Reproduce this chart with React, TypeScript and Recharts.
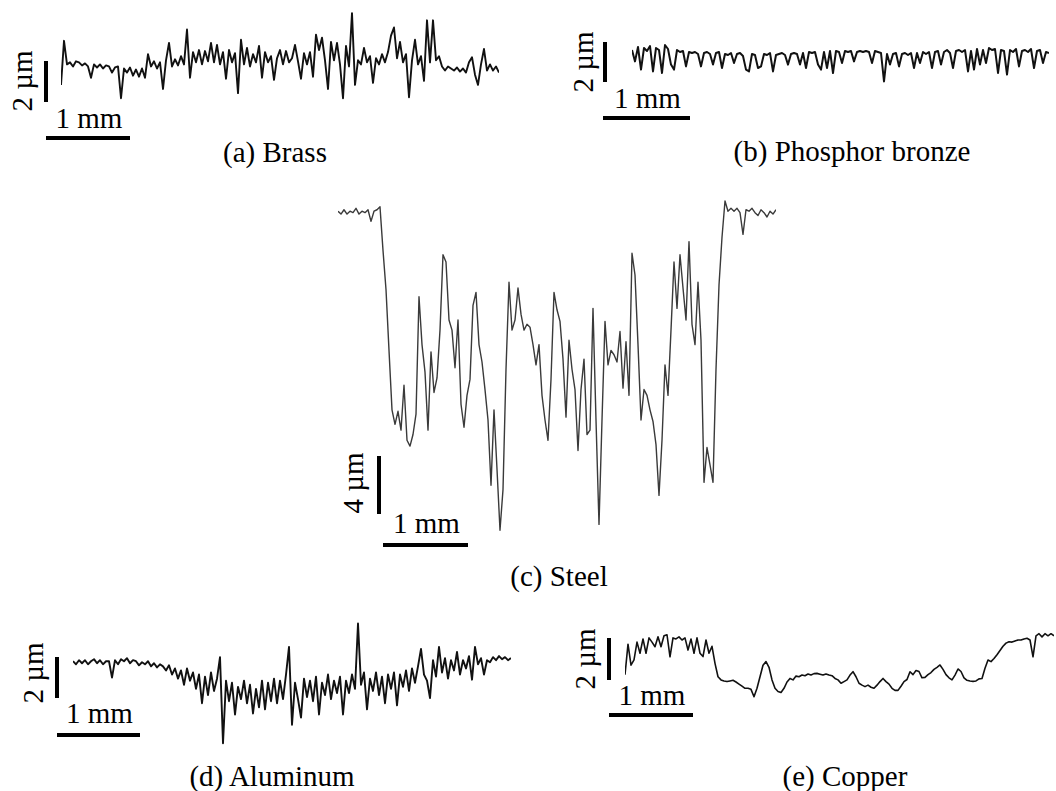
import { LineChart, Line, XAxis, YAxis } from "recharts";

// Surface profiles, heights in µm, one sample every ~0.035 mm.
const brassHeight = [
  -0.8, 1.35, 0.2, 0.3, 0.1, 0.35, 0.3, 0.15, 0.25, 0.1,
  -0.45, 0.2, 0.05, 0.2, 0.0, 0.15, 0.1, -0.2, 0.05, 0.1,
  -1.45, 0.0, -0.2, 0.05, -0.35, -0.05, -0.4, 0.0, -0.45, 0.7,
  0.1, 0.35, 0.0, 0.3, -1.0, 0.4, 1.25, 0.1, 0.45, 0.15,
  0.6, 0.2, 1.9, -0.45, 0.8, 0.3, 0.9, 0.2, 0.85, 0.35,
  1.25, 0.3, 1.15, 0.2, 0.8, -0.5, 0.9, 0.3, 0.75, -1.2,
  1.4, 0.2, 1.0, 0.1, 0.7, 0.3, 1.1, -0.45, 0.8, 0.3,
  0.6, -0.55, 0.5, 0.9, 0.2, 0.85, 0.3, 0.5, 1.15, 0.35,
  -0.5, 0.75, 0.2, 0.8, -0.4, 1.65, 0.9, 1.5, 0.4, -1.0,
  1.3, 0.4, 1.25, 0.2, -1.45, 1.1, 0.1, 2.7, -0.8, 0.4,
  0.2, 1.0, 0.3, 0.6, -0.7, 0.5, 0.2, 0.7, 0.3, 0.8,
  1.6, 2.0, 0.5, 1.3, 0.3, 0.7, -1.4, 0.4, 1.4, 0.2,
  0.6, -0.6, 2.35, 0.3, 2.35, 0.4, 0.6, 0.1, -0.1, 0.1,
  0.0, -0.1, 0.05, -0.15, 0.0, -0.2, 0.3, 0.55, -0.3, -0.8,
  0.2, 0.95, -0.1, 0.2, -0.1, 0.1, -0.2,
];

const bronzeHeight = [
  0.2, -0.37, 0.35, -0.78, 0.3, 0.15, 0.4, -0.87, 0.3, 0.2,
  -0.95, 0.45, 0.25, -0.53, -0.78, 0.2, 0.1, 0.15, -0.62, 0.1,
  0.05, 0.1, 0.0, -0.62, 0.05, 0.1, 0.0, -0.53, 0.05, 0.1,
  -0.7, 0.0, -0.05, 0.05, -0.45, 0.0, 0.05, -0.1, -0.78, -0.87,
  0.0, -0.05, -0.7, -0.62, 0.0, -0.05, 0.05, -0.87, -0.05, 0.0,
  0.05, -0.05, -0.53, 0.0, 0.05, 0.0, -0.53, 0.05, -0.7, 0.1,
  0.05, 0.1, -0.53, -0.78, 0.1, -0.7, 0.15, -0.95, 0.15, 0.1,
  -0.45, 0.15, 0.1, 0.15, -0.37, 0.1, 0.15, 0.1, 0.15, 0.1,
  -0.45, 0.15, 0.1, 0.05, -1.37, 0.0, -0.53, 0.0, 0.05, -0.62,
  0.0, 0.05, -0.05, 0.05, -0.7, 0.05, -0.45, 0.1, 0.0, 0.1,
  -0.7, 0.1, 0.15, -0.53, 0.1, 0.2, 0.05, -0.7, 0.15, 0.2,
  0.1, 0.2, -0.87, 0.15, -0.78, 0.25, -0.53, 0.2, -0.45, 0.3,
  0.2, 0.25, -0.95, 0.2, 0.15, -1.03, 0.2, 0.1, 0.25, -0.62,
  0.15, 0.2, 0.1, 0.25, -0.7, 0.15, 0.2, -0.45, 0.1, 0.05,
];

const steelHeight = [
  -0.1, -0.3, 0.0, -0.3, -0.1, -0.2, 0.1, -0.3, -0.1, -0.2,
  0.0, -0.8, -0.1, 0.0, 0.2, -2.8, -5.5, -9.7, -13.8, -14.8,
  -13.9, -15.2, -12.1, -15.9, -16.3, -15.5, -14.1, -6.0, -9.3, -11.2,
  -15.2, -9.8, -12.6, -11.6, -8.3, -3.1, -3.6, -7.6, -8.3, -10.9,
  -7.6, -13.4, -15.0, -12.8, -11.7, -6.6, -5.7, -9.3, -10.5, -12.4,
  -14.5, -19.0, -13.8, -17.9, -22.1, -19.3, -11.0, -5.0, -8.3, -7.6,
  -5.4, -7.2, -8.3, -7.9, -8.1, -9.3, -10.7, -9.3, -12.8, -14.5,
  -15.9, -11.7, -5.7, -6.9, -7.7, -10.3, -14.3, -9.0, -11.0, -12.4,
  -16.6, -12.4, -10.3, -15.5, -15.2, -6.8, -14.5, -21.7, -14.5, -7.7,
  -10.7, -9.7, -10.0, -10.5, -8.4, -12.3, -9.1, -12.8, -3.0, -4.5,
  -9.3, -14.5, -12.4, -12.8, -13.8, -14.6, -16.2, -19.7, -15.9, -10.7,
  -12.8, -8.3, -3.6, -6.8, -3.1, -5.4, -7.6, -2.2, -7.9, -9.3,
  -5.0, -9.0, -18.8, -16.4, -17.6, -18.8, -11.0, -5.2, -1.9, 0.6,
  -0.1, 0.1, -0.1, 0.1, -0.2, -1.7, 0.0, -0.1, 0.1, -0.2,
  -0.4, 0.0, -0.2, -0.5, -0.1, -0.3, 0.0,
];

const aluminumHeight = [
  0.05, -0.1, 0.1, -0.05, 0.1, -0.1, 0.05, 0.15, -0.05, 0.1,
  -0.1, 0.05, 0.05, -0.75, 0.1, -0.1, 0.15, 0.05, 0.2, -0.05,
  0.1, 0.05, -0.15, 0.0, -0.1, 0.05, -0.2, -0.05, -0.25, -0.1,
  -0.2, -0.4, -0.15, -0.6, -0.3, -0.8, -0.4, -1.1, -0.3, -0.9,
  -0.5, -1.3, -0.6, -2.0, -0.7, -1.6, -0.5, -1.4, -0.8, 0.25,
  -3.95, -0.9, -1.9, -1.0, -2.55, -1.2, -1.8, -0.9, -2.0, -1.1,
  -2.5, -1.3, -2.2, -0.9, -2.3, -1.0, -1.9, -0.8, -2.0, -0.9,
  -1.8, -0.6, 0.75, -3.05, -1.0, -1.8, -2.7, -0.8, -1.7, -0.9,
  -1.9, -0.7, -2.55, -1.0, -1.6, -0.6, -1.8, -0.9, -1.5, -0.7,
  -2.55, -0.9, -1.5, -0.6, -1.3, 1.89, -1.1, -0.5, -2.3, -0.8,
  -1.4, -0.5, -1.6, -0.7, -2.0, -0.6, -1.3, -0.5, -2.1, -0.6,
  -1.2, -0.4, -1.4, -0.3, -1.0, -0.2, 0.65, -0.6, -0.9, -1.75,
  0.1, -0.7, 0.75, -0.5, 0.2, -0.8, 0.1, -0.4, 0.5, -0.6,
  0.1, -0.3, 0.3, -0.85, 0.75, -0.1, 0.2, -0.6, 0.1, 0.0,
  0.25, 0.1, 0.3, 0.15, 0.25, 0.1, 0.2,
];

const copperHeight = [
  -1.65, -0.2, -1.2, -0.95, -0.1, -0.63, 0.05, -0.63, 0.1, -0.1,
  -0.32, 0.15, -0.32, 0.2, 0.25, -0.8, 0.1, 0.05, 0.15, 0.0,
  0.1, -0.48, 0.05, -0.63, 0.1, -0.63, -0.79, 0.0, -0.63, -0.3,
  -1.11, -1.75, -1.9, -1.95, -1.98, -1.95, -1.92, -2.0, -2.1, -2.2,
  -2.3, -2.3, -2.35, -2.7, -2.3, -1.75, -1.2, -1.03, -1.3, -1.9,
  -2.3, -2.45, -2.5, -2.3, -2.0, -1.83, -1.9, -1.72, -1.75, -1.67,
  -1.7, -1.62, -1.67, -1.6, -1.59, -1.63, -1.67, -1.62, -1.67, -1.7,
  -1.83, -1.9, -2.06, -1.98, -1.9, -1.67, -1.51, -1.75, -2.06, -2.15,
  -2.22, -2.15, -2.25, -2.3, -2.15, -1.98, -1.83, -1.98, -2.1, -2.3,
  -2.4, -2.4, -2.2, -1.98, -1.88, -1.51, -1.65, -1.45, -1.5, -1.8,
  -1.78, -1.65, -1.55, -1.4, -1.3, -1.19, -1.4, -1.65, -1.8, -1.9,
  -1.67, -1.38, -1.5, -1.8, -1.92, -1.95, -1.97, -1.95, -1.85, -1.83,
  -1.35, -0.95, -1.03, -0.88, -0.7, -0.5, -0.3, -0.15, -0.08, -0.1,
  -0.05, 0.0, 0.0, 0.05, 0.08, 0.0, -0.8, 0.2, 0.3, 0.15,
  0.3, 0.2, 0.3, 0.2,
];

const STEP = 3; // px between samples

const SERIF = "'Liberation Serif', 'Times New Roman', serif";

interface Panel {
  name: string;
  values: number[];
  caption: string;
  umLabel: string;
  umBar: number;
  left: number;
  zeroY: number;
  pxPerUm: number;
  pxPerMm: number;
  domain: [number, number];
  color: string;
  width: number;
  vBar: [number, number];
  hBar: [number, number];
  umText: [number, number];
  mmBaseline: number;
  captionAt: [number, number];
}

const panels: Panel[] = [
  {
    name: "brass", values: brassHeight, caption: "(a) Brass", umLabel: "2 µm", umBar: 2,
    left: 61, zeroY: 68, pxPerUm: 20.5, pxPerMm: 84, domain: [-2, 3], color: "#111", width: 1.9,
    vBar: [44, 61], hBar: [46, 136], umText: [32, 81], mmBaseline: 128, captionAt: [275, 162],
  },
  {
    name: "bronze", values: bronzeHeight, caption: "(b) Phosphor bronze", umLabel: "2 µm", umBar: 2,
    left: 632, zeroY: 54, pxPerUm: 20, pxPerMm: 87, domain: [-2, 1.5], color: "#111", width: 2,
    vBar: [603, 42], hBar: [603, 116], umText: [593, 62], mmBaseline: 108, captionAt: [852, 161],
  },
  {
    name: "steel", values: steelHeight, caption: "(c) Steel", umLabel: "4 µm", umBar: 4,
    left: 338, zeroY: 210, pxPerUm: 14.5, pxPerMm: 85, domain: [-24, 1.5], color: "#3a3a3a", width: 1.4,
    vBar: [377, 456], hBar: [383, 543], umText: [363, 483], mmBaseline: 533, captionAt: [559, 586],
  },
  {
    name: "aluminum", values: aluminumHeight, caption: "(d) Aluminum", umLabel: "2 µm", umBar: 2,
    left: 73, zeroY: 662, pxPerUm: 20.5, pxPerMm: 83, domain: [-4.5, 2.5], color: "#111", width: 1.9,
    vBar: [55, 657], hBar: [57, 733], umText: [43, 673], mmBaseline: 723, captionAt: [272, 786],
  },
  {
    name: "copper", values: copperHeight, caption: "(e) Copper", umLabel: "2 µm", umBar: 2,
    left: 625, zeroY: 640, pxPerUm: 21, pxPerMm: 84, domain: [-3.5, 1], color: "#111", width: 1.6,
    vBar: [607, 638], hBar: [609, 713], umText: [595, 659], mmBaseline: 705, captionAt: [845, 786],
  },
];

function Profile({ p }: { p: Panel }) {
  const [lo, hi] = p.domain;
  const width = (p.values.length - 1) * STEP;
  const height = (hi - lo) * p.pxPerUm;
  const top = p.zeroY - hi * p.pxPerUm;
  const data = p.values.map((v, i) => ({ i, v }));
  return (
    <div style={{ position: "absolute", left: p.left, top, width, height }}>
      <LineChart width={width} height={height} data={data} margin={{ top: 0, right: 0, bottom: 0, left: 0 }}>
        <XAxis dataKey="i" type="number" domain={[0, p.values.length - 1]} hide />
        <YAxis type="number" domain={p.domain} allowDataOverflow hide />
        <Line
          type="linear"
          dataKey="v"
          stroke={p.color}
          strokeWidth={p.width}
          strokeLinejoin="round"
          dot={false}
          isAnimationActive={false}
        />
      </LineChart>
    </div>
  );
}

export default function App() {
  return (
    <div
      style={{
        position: "absolute",
        left: 0,
        top: 0,
        width: 1056,
        height: 791,
        background: "#fff",
        overflow: "hidden",
      }}
    >
      {panels.map((p) => (
        <Profile key={p.name} p={p} />
      ))}
      <svg
        width={1056}
        height={791}
        style={{ position: "absolute", left: 0, top: 0, pointerEvents: "none" }}
        fontFamily={SERIF}
        fontSize={29}
        fill="#000"
      >
        {panels.map((p) => (
          <g key={p.name}>
            {/* scale bars */}
            <rect x={p.vBar[0]} y={p.vBar[1]} width={4} height={p.umBar * p.pxPerUm} fill="#000" />
            <rect x={p.hBar[0]} y={p.hBar[1]} width={p.pxPerMm} height={4} fill="#000" />
            <text x={p.hBar[0] + p.pxPerMm / 2 + 1} y={p.mmBaseline} textAnchor="middle">
              1 mm
            </text>
            <text
              transform={`translate(${p.umText[0]},${p.umText[1]}) rotate(-90)`}
              textAnchor="middle"
            >
              {p.umLabel}
            </text>
            <text x={p.captionAt[0]} y={p.captionAt[1]} textAnchor="middle">
              {p.caption}
            </text>
          </g>
        ))}
      </svg>
    </div>
  );
}
